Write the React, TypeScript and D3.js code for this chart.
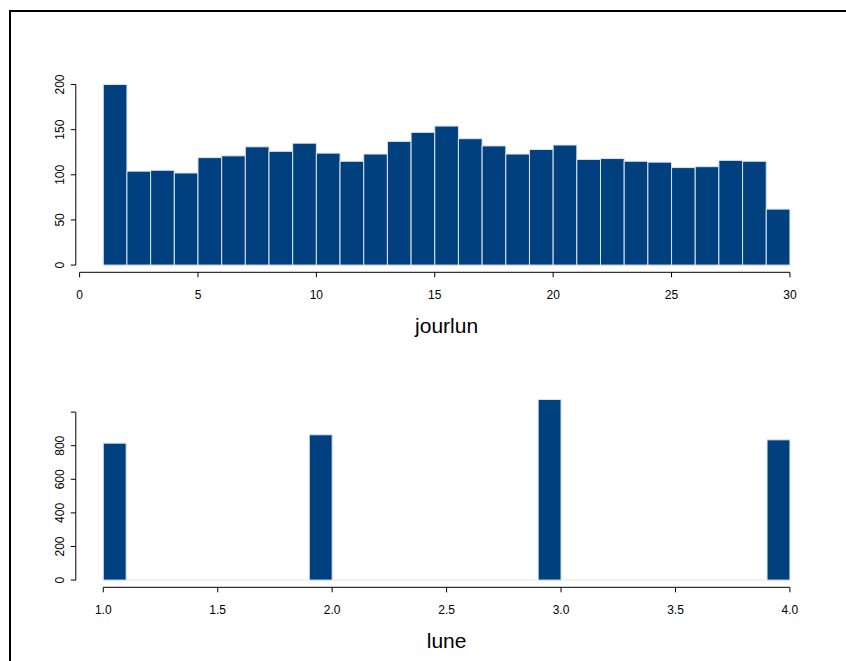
import React from 'react';
import * as d3 from 'd3';

// jourlun: counts per 1-day bin, breaks 1..30
const jourBreaks = d3.range(1, 31);
const jourCounts = [200, 104, 105, 102, 119, 121, 131, 126, 135, 124, 115, 123, 137, 147, 154,
  140, 132, 123, 128, 133, 117, 118, 115, 114, 108, 109, 116, 115, 62];
const jourXTicks = [0, 5, 10, 15, 20, 25, 30];
const jourYTicks = [0, 50, 100, 150, 200];

// lune: four phases, histogram breaks 1.0..4.0 by 0.1
const luneValues = [1, 2, 3, 4];
const luneCounts = [815, 865, 1075, 835];
const luneXTicks = [1.0, 1.5, 2.0, 2.5, 3.0, 3.5, 4.0];
const luneXLabels = ['1.0', '1.5', '2.0', '2.5', '3.0', '3.5', '4.0'];
const luneYTicks = [0, 200, 400, 600, 800, 1000];
const luneYLabels = ['0', '200', '400', '600', '800', ''];

const FILL = '#00407e';
const EDGE = '#dce4ee';
const FONT = '"Liberation Sans", Arial, sans-serif';

interface Bin { x0: number; x1: number; n: number; }

interface HistProps {
  top: number;
  bins: Bin[];
  xRange: [number, number];
  xTicks: number[];
  xLabels: string[];
  yTicks: number[];
  yLabels: string[];
  yMax: number;
  title: string;
}

const plotLeft = 75.8;
const plotRight = 817.4;
const plotHeight = 195;

const Hist: React.FC<HistProps> = ({ top, bins, xRange, xTicks, xLabels, yTicks, yLabels, yMax, title }) => {
  // R style 4% expansion of the ranges
  const xPad = (xRange[1] - xRange[0]) * 0.04;
  const yPad = yMax * 0.04;
  const x = d3.scaleLinear().domain([xRange[0] - xPad, xRange[1] + xPad]).range([plotLeft, plotRight]);
  const y = d3.scaleLinear().domain([-yPad, yMax + yPad]).range([top + plotHeight, top]);
  const axisY = y(-yPad);
  const tick = 5;

  return (
    <g fontFamily={FONT}>
      {/* empty bins show as a faint baseline */}
      <line x1={x(xRange[0])} x2={x(xRange[1])} y1={y(0)} y2={y(0)} stroke={EDGE} strokeWidth={1} />
      {bins.filter(b => b.n > 0).map((b, i) => (
        <rect key={i} x={x(b.x0)} y={y(b.n)} width={x(b.x1) - x(b.x0)} height={y(0) - y(b.n)}
          fill={FILL} stroke={EDGE} strokeWidth={1} />
      ))}

      {/* x axis */}
      <line x1={x(xTicks[0])} x2={x(xTicks[xTicks.length - 1])} y1={axisY} y2={axisY} stroke="#000" />
      {xTicks.map((t, i) => (
        <g key={i}>
          <line x1={x(t)} x2={x(t)} y1={axisY} y2={axisY + tick} stroke="#000" />
          <text x={x(t)} y={axisY + 27} fontSize={12} textAnchor="middle">{xLabels[i]}</text>
        </g>
      ))}

      {/* y axis */}
      <line x1={plotLeft} x2={plotLeft} y1={y(yTicks[0])} y2={y(yTicks[yTicks.length - 1])} stroke="#000" />
      {yTicks.map((t, i) => (
        <g key={i}>
          <line x1={plotLeft - tick} x2={plotLeft} y1={y(t)} y2={y(t)} stroke="#000" />
          <text transform={`translate(${plotLeft - 12},${y(t)}) rotate(-90)`} fontSize={12} textAnchor="middle">
            {yLabels[i]}
          </text>
        </g>
      ))}

      <text x={(plotLeft + plotRight) / 2} y={axisY + 61} fontSize={21} textAnchor="middle">{title}</text>
    </g>
  );
};

const App: React.FC = () => {
  const jourBins: Bin[] = jourCounts.map((n, i) => ({ x0: jourBreaks[i], x1: jourBreaks[i + 1], n }));

  // R hist: first bin [1,1.1], others (a,b]
  const luneBreaks = d3.range(0, 31).map(i => 1 + i * 0.1);
  const luneBins: Bin[] = d3.range(30).map(i => {
    const x0 = luneBreaks[i];
    const x1 = luneBreaks[i + 1];
    const k = luneValues.findIndex(v => (i === 0 ? v >= x0 - 1e-9 : v > x0 + 1e-9) && v <= x1 + 1e-9);
    return { x0, x1, n: k >= 0 ? luneCounts[k] : 0 };
  });

  return (
    <svg width={846} height={661} style={{ position: 'absolute', left: 0, top: 0, background: '#fff' }}>
      <rect x={10} y={11} width={900} height={700} fill="none" stroke="#000" strokeWidth={2} />
      <Hist top={77.3} bins={jourBins} xRange={[1, 30]} xTicks={jourXTicks}
        xLabels={jourXTicks.map(String)} yTicks={jourYTicks} yLabels={jourYTicks.map(String)}
        yMax={d3.max(jourCounts) as number} title="jourlun" />
      <Hist top={392.3} bins={luneBins} xRange={[1, 4]} xTicks={luneXTicks}
        xLabels={luneXLabels} yTicks={luneYTicks} yLabels={luneYLabels}
        yMax={d3.max(luneCounts) as number} title="lune" />
    </svg>
  );
};

export default App;
